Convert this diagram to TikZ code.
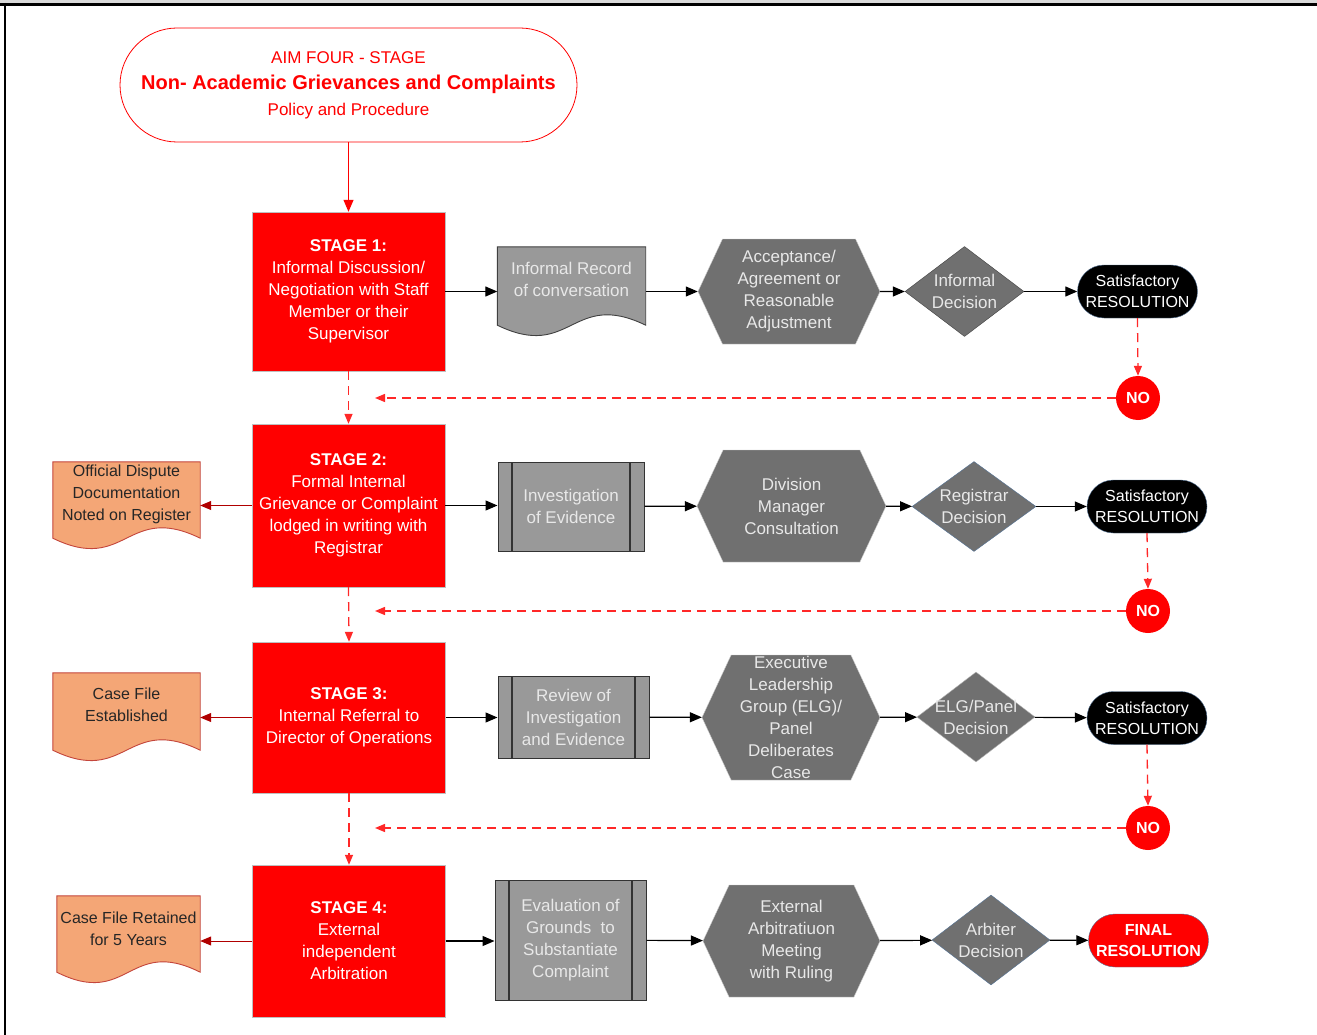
\documentclass[tikz,border=0pt]{standalone}
\usepackage{fontspec}
\setmainfont{Liberation Sans}
\usetikzlibrary{arrows.meta,shapes.geometric,shapes.symbols,calc,backgrounds}
\definecolor{stagered}{RGB}{255,0,0}
\definecolor{boxgray}{RGB}{153,153,153}
\definecolor{hexgray}{RGB}{112,112,112}
\definecolor{docorange}{RGB}{244,166,118}
\definecolor{docedge}{RGB}{196,70,60}
\definecolor{txtlight}{RGB}{232,232,232}
\definecolor{edgeblue}{RGB}{84,115,150}
\definecolor{dashred}{RGB}{255,40,40}
\definecolor{darkred}{RGB}{176,0,0}

\tikzset{
  titlebox/.style={draw=red, line width=0.8pt, rounded corners=57pt, text=red,
    minimum width=457pt, minimum height=114pt, align=center, font=\fontsize{17}{26}\selectfont},
  stagebox/.style={draw=black!25, fill=stagered, text=white, minimum width=193pt,
    align=center, inner sep=0pt},
  procbox/.style={draw=black!80, line width=1pt, fill=boxgray, text=txtlight, align=center,
    inner sep=0pt, path picture={
      \draw[black!80, line width=1.3pt]
        ([xshift=14pt]path picture bounding box.north west) -- ([xshift=14pt]path picture bounding box.south west)
        ([xshift=-14pt]path picture bounding box.north east) -- ([xshift=-14pt]path picture bounding box.south east);}},
  hexbox/.style={signal, signal to=east and west, signal pointer angle=130, draw=black!20,
    fill=hexgray, text=txtlight, align=center, inner sep=0pt, inner ysep=-4pt},
  decbox/.style={diamond, aspect=1.33, draw=edgeblue, fill=hexgray, text=txtlight,
    align=center, inner sep=-8pt, minimum width=118pt, minimum height=90pt},
  resbox/.style={rounded corners=26.5pt, draw=edgeblue, fill=black, text=white, align=center,
    minimum width=120pt, minimum height=53pt, inner sep=0pt, font=\fontsize{16}{21}\selectfont},
  nobox/.style={circle, fill=stagered, text=white, minimum size=44pt, inner sep=0pt,
    font=\fontsize{16}{20}\selectfont\bfseries},
  docnode/.style={align=center, inner sep=0pt, minimum height=64pt},
  sidedoc/.style={docnode, text=black!85, font=\fontsize{16}{22}\selectfont},
  docgray/.style={fill=boxgray, draw=black!75, line width=0.9pt},
  docpeach/.style={fill=docorange, draw=docedge, line width=0.9pt},
  flowline/.style={line width=1.2pt, -{Triangle[length=12pt,width=10pt]}},
  sideline/.style={darkred, line width=1pt, -{Triangle[length=11pt,width=9pt]}},
  loopline/.style={dashred, line width=1.3pt, dash pattern=on 9pt off 6pt,
    -{Triangle[length=10pt,width=8pt]}}
}

% document outline: node name, style, drop of the wavy edge
\newcommand{\docwave}[3]{%
  \path[#2] (#1.north west) -- (#1.north east) -- ($(#1.south east)+(0,#3)$)
    .. controls ($(#1.south)+(0,#3-36)$) and ($(#1.south)+(0,#3+36)$) .. ($(#1.south west)+(0,#3)$) -- cycle;}

\begin{document}
\begin{tikzpicture}[x=1pt, y=-1pt, font=\fontsize{17}{22}\selectfont]
  \useasboundingbox (0,0) rectangle (1317,1035);
  % Page frame
  \begin{scope}[on background layer]
    \fill[white] (0,0) rectangle (1317,1035);
  \end{scope}
  \fill[black!15] (0,0) rectangle (1317,3);
  \draw[line width=2.5pt] (0,4.5) -- (1317,4.5);
  \draw[line width=2.5pt] (5,3) -- (5,1035);

  % Title
  \node[titlebox] (aim) at (348.5,85) {AIM FOUR - STAGE\\
    {\fontsize{20}{26}\selectfont\bfseries Non- Academic Grievances and Complaints}\\
    Policy and Procedure};

  % Stages
  \node[stagebox, minimum height=159pt] (st1) at (348.5,291.5)
    {\textbf{STAGE 1:}\\Informal Discussion/\\Negotiation with Staff\\Member or their\\Supervisor};
  \node[stagebox, minimum height=163pt] (st2) at (348.5,505.5)
    {\textbf{STAGE 2:}\\Formal Internal\\Grievance or Complaint\\lodged in writing with\\Registrar};
  \node[stagebox, minimum height=151pt] (st3) at (349,717.5)
    {\textbf{STAGE 3:}\\Internal Referral to\\Director of Operations};
  \node[stagebox, minimum height=152pt] (st4) at (349,941)
    {\textbf{STAGE 4:}\\External\\independent\\Arbitration};

  % Row 1
  \node[docnode, minimum width=148pt, text=txtlight] (rec1) at (571.5,279) {Informal Record\\of conversation};
  \node[hexbox, minimum width=182pt, minimum height=105pt] (acc1) at (789,291.5)
    {Acceptance/\\Agreement or\\Reasonable\\Adjustment};
  \node[decbox, draw=black!75, minimum width=119pt] (dec1) at (964.5,291.5) {Informal\\Decision};
  \node[resbox] (res1) at (1137.5,291.5) {Satisfactory\\RESOLUTION};
  \node[nobox] (no1) at (1138,398) {NO};

  % Row 2
  \node[sidedoc, minimum width=147pt] (reg2) at (126.5,494)
    {Official Dispute\\Documentation\\Noted on Register};
  \node[procbox, minimum width=146pt, minimum height=89pt] (inv2) at (571,506.5) {Investigation\\of Evidence};
  \node[hexbox, minimum width=189pt, minimum height=112pt] (div2) at (791.5,506)
    {Division\\Manager\\Consultation};
  \node[decbox, minimum width=124pt] (dec2) at (974,506.5) {Registrar\\Decision};
  \node[resbox] (res2) at (1147,506.5) {Satisfactory\\RESOLUTION};
  \node[nobox] (no2) at (1148,611) {NO};

  % Row 3
  \node[sidedoc, minimum width=147pt] (est3) at (126.5,705) {Case File\\Established};
  \node[procbox, minimum width=151pt, minimum height=82pt] (rev3) at (573.5,717)
    {Review of\\Investigation\\and Evidence};
  \node[hexbox, minimum width=178pt, minimum height=125pt] (elg3) at (791,717.5)
    {Executive\\Leadership\\Group (ELG)/\\Panel\\Deliberates\\Case};
  \node[decbox, draw=black!30] (dec3) at (976,717) {ELG/Panel\\Decision};
  \node[resbox] (res3) at (1147,718) {Satisfactory\\RESOLUTION};
  \node[nobox] (no3) at (1148,828) {NO};

  % Row 4
  \node[sidedoc, minimum width=143pt, minimum height=66pt] (ret4) at (128.5,929)
    {Case File Retained\\for 5 Years};
  \node[procbox, minimum width=151pt, minimum height=120pt] (eva4) at (570.5,940)
    {Evaluation of\\Grounds~ to\\Substantiate\\Complaint};
  \node[hexbox, minimum width=177pt, minimum height=112pt] (arb4) at (791.5,941)
    {External\\Arbitratiuon\\Meeting\\with Ruling};
  \node[decbox] (dec4) at (991,940) {Arbiter\\Decision};
  \node[resbox, fill=stagered, font=\fontsize{16}{21}\selectfont\bfseries] (fin4) at (1148.5,940.5)
    {FINAL\\RESOLUTION};

  % Document outlines behind the texts
  \begin{scope}[on background layer]
    \docwave{rec1}{docgray}{14}
    \docwave{reg2}{docpeach}{12}
    \docwave{est3}{docpeach}{13}
    \docwave{ret4}{docpeach}{10}
  \end{scope}

  % Main flow
  \draw[flowline, red] (aim.south) -- (st1.north);
  \draw[flowline] (st1.east) -- (st1.east -| rec1.west);
  \draw[flowline] (rec1.east |- acc1.west) -- (acc1.west);
  \draw[flowline] (acc1) -- (dec1);
  \draw[flowline] (dec1) -- (res1);
  \draw[flowline] (st2.east) -- (st2.east -| inv2.west);
  \draw[flowline] (inv2) -- (div2);
  \draw[flowline] (div2) -- (dec2);
  \draw[flowline] (dec2) -- (res2);
  \draw[flowline] (st3.east) -- (st3.east -| rev3.west);
  \draw[flowline] (rev3) -- (elg3);
  \draw[flowline] (elg3) -- (dec3);
  \draw[flowline] (dec3) -- (res3);
  \draw[flowline] (st4.east) -- (st4.east -| eva4.west);
  \draw[flowline] (eva4) -- (arb4);
  \draw[flowline] (arb4) -- (dec4);
  \draw[flowline] (dec4) -- (fin4);

  % Records kept on the left
  \draw[sideline] (st2.west) -- (st2.west -| reg2.east);
  \draw[sideline] (st3.west) -- (st3.west -| est3.east);
  \draw[sideline] (st4.west) -- (st4.west -| ret4.east);

  % Unsatisfactory outcomes go to the next stage
  \draw[loopline] (st1.south) -- (st2.north);
  \draw[loopline] (st2.south) -- (st3.north);
  \draw[loopline] (st3.south) -- (st4.north);
  \draw[loopline] (res1.south) -- (no1.north);
  \draw[loopline] (res2.south) -- (no2.north);
  \draw[loopline] (res3.south) -- (no3.north);
  \coordinate (back1) at (375,398);
  \coordinate (back2) at (375,611);
  \coordinate (back3) at (375,828);
  \draw[loopline] (no1.west) -- (back1);
  \draw[loopline] (no2.west) -- (back2);
  \draw[loopline] (no3.west) -- (back3);
\end{tikzpicture}
\end{document}
